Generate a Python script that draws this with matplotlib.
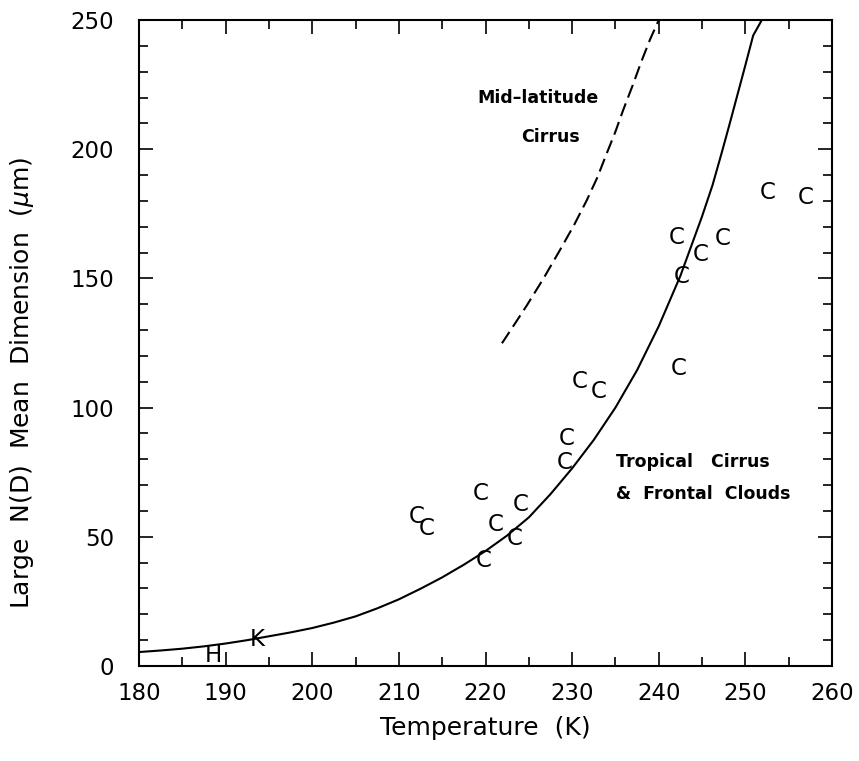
import matplotlib
matplotlib.use("Agg")
import matplotlib.pyplot as plt
from matplotlib.ticker import MultipleLocator

plt.rcParams['font.family'] = ['DejaVu Sans']
plt.rcParams['mathtext.fontset'] = 'dejavusans'

# ---- data ----
# tropical cirrus / frontal clouds data points ("C")
c_temp = [212.1, 213.2, 219.4, 221.2, 224.1, 223.4, 219.8, 229.4, 229.1,
          230.9, 233.1, 242.3, 242.1, 244.8, 247.4, 242.6, 252.6, 257.0]
c_dim = [58.4, 53.9, 67.5, 55.5, 63.2, 50.0, 41.7, 88.7, 79.4,
         110.7, 107.1, 115.8, 166.4, 159.8, 166.0, 151.3, 183.8, 181.9]

# other single-letter points
other_labels = ['H', 'K']
other_temp = [188.6, 193.6]
other_dim = [4.9, 11.1]

# solid fit curve (tropical cirrus & frontal clouds)
fit_temp = [180, 182.5, 185, 187.5, 190, 192.5, 195, 197.5, 200, 202.5,
            205, 207.5, 210, 212.5, 215, 217.5, 220, 222.5, 225, 227.5,
            230, 232.5, 235, 237.5, 240, 242.5, 245, 246.2, 247.3, 248.2,
            249.0, 250.0, 250.9, 251.9]
fit_dim = [5.4, 6.0, 6.7, 7.6, 8.7, 10.0, 11.5, 13.0, 14.7, 16.8,
           19.2, 22.3, 25.8, 29.9, 34.3, 39.2, 44.5, 50.5, 57.5, 66.5,
           76.5, 87.5, 100.0, 114.5, 131.5, 151.0, 174.0, 186.0, 199.0, 210.0,
           220.0, 232.5, 244.0, 250.0]

# dashed curve (mid-latitude cirrus)
mid_temp = [221.9, 223.3, 224.8, 226.7, 228.6, 230.2, 231.7, 232.9, 234.0,
            235.0, 235.9, 237.0, 238.0, 239.0, 240.0]
mid_dim = [124.9, 132.0, 139.7, 150.0, 161.0, 170.5, 180.3, 189.0, 198.4,
           206.8, 215.2, 224.8, 234.0, 242.5, 250.0]

x_ticks = [180, 190, 200, 210, 220, 230, 240, 250, 260]
y_ticks = [0, 50, 100, 150, 200, 250]

# ---- figure ----
fig = plt.figure(figsize=(8.59, 7.61), dpi=100)
ax = fig.add_axes([139 / 859, 95 / 761, 693 / 859, 646 / 761])

ax.plot(fit_temp, fit_dim, color='black', lw=1.5, solid_joinstyle='round')
ax.plot(mid_temp, mid_dim, color='black', lw=1.5, linestyle=(0, (6.5, 3.0)))

for t, v in zip(c_temp, c_dim):
    ax.annotate('C', xy=(t, v), xytext=(0, -6.0), textcoords='offset points',
                ha='center', va='baseline', fontsize=16.5)
for lab, t, v in zip(other_labels, other_temp, other_dim):
    ax.annotate(lab, xy=(t, v), xytext=(0, -6.0), textcoords='offset points',
                ha='center', va='baseline', fontsize=16.5)

ax.text(226.1, 218.0, 'Mid\u2013latitude', ha='center', va='baseline',
        fontsize=12.5, fontweight='bold')
ax.text(227.5, 202.9, 'Cirrus', ha='center', va='baseline',
        fontsize=12.5, fontweight='bold')
ax.text(235.1, 77.1, 'Tropical   Cirrus', ha='left', va='baseline',
        fontsize=12.5, fontweight='bold')
ax.text(235.1, 64.5, '&  Frontal  Clouds', ha='left', va='baseline',
        fontsize=12.5, fontweight='bold')

ax.set_xlim(180, 260)
ax.set_ylim(0, 250)
ax.set_xticks(x_ticks)
ax.set_yticks(y_ticks)
ax.xaxis.set_minor_locator(MultipleLocator(5))
ax.yaxis.set_minor_locator(MultipleLocator(10))

ax.tick_params(which='both', direction='in', top=True, right=True,
               width=1.2, colors='black')
ax.tick_params(which='major', length=10)
ax.tick_params(which='minor', length=6.5)
ax.tick_params(axis='x', which='major', pad=11.5, labelsize=16.5)
ax.tick_params(axis='y', which='major', pad=18, labelsize=16.5)

for s in ax.spines.values():
    s.set_linewidth(1.5)

ax.set_xlabel('Temperature  (K)', fontsize=18, labelpad=8)
ax.set_ylabel(r'Large  N(D)  Mean  Dimension  ($\mu$m)', fontsize=18)
ax.yaxis.set_label_coords(-0.149, 0.438)

fig.savefig('out.png', dpi=100)
